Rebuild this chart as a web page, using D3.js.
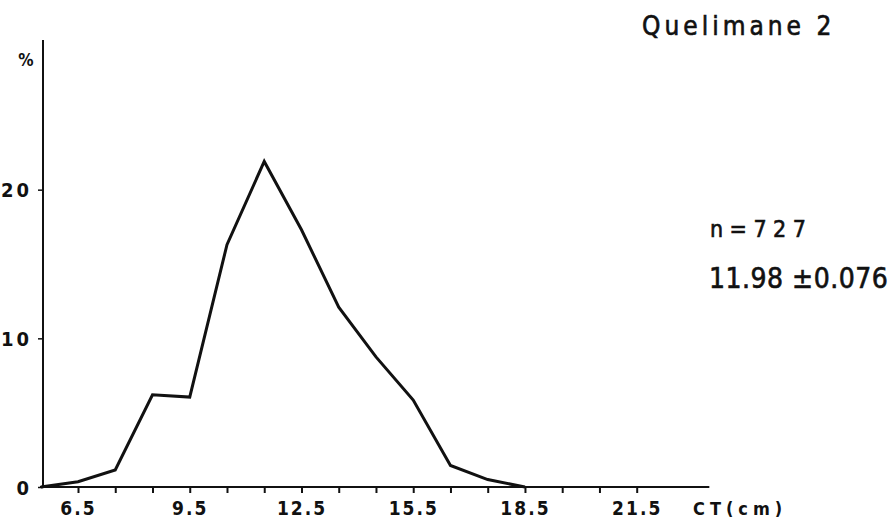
<!DOCTYPE html>
<html><head><meta charset="utf-8">
<script src="https://cdn.jsdelivr.net/npm/d3@7"></script>
<style>
body{margin:0;background:#fff;}
svg{display:block;}
text{font-family:"DejaVu Sans Condensed","DejaVu Sans",sans-serif;fill:#111;}
</style></head>
<body>
<svg id="c" width="895" height="524"></svg>
<script>
const lengths = [5.5, 6.5, 7.5, 8.5, 9.5, 10.5, 11.5, 12.5, 13.5, 14.5, 15.5, 16.5, 17.5, 18.5];
const percents = [0, 0.35, 1.15, 6.2, 6.05, 16.3, 21.9, 17.3, 12.1, 8.75, 5.85, 1.45, 0.5, 0];
const xTicks = [6.5, 7.5, 8.5, 9.5, 10.5, 11.5, 12.5, 13.5, 14.5, 15.5, 16.5, 17.5, 18.5, 19.5, 20.5, 21.5];
const xTickLabels = [6.5, 9.5, 12.5, 15.5, 18.5, 21.5];
const yTicks = [0, 10, 20];
const title = "Quelimane 2";
const statN = "n=727";
const statMean = "11.98 ±0.076";

const svg = d3.select("#c");
const x = d3.scaleLinear().domain([6.5, 21.5]).range([78, 636.7]);
const y = d3.scaleLinear().domain([0, 30]).range([487, 41]);

// x axis
const xa = svg.append("g").attr("transform", `translate(0,${y(0)})`)
  .call(d3.axisBottom(x).tickValues(xTicks).tickSize(6).tickSizeOuter(0)
    .tickFormat(d => xTickLabels.includes(d) ? d.toFixed(1) : ""));
xa.select(".domain").remove();
xa.selectAll(".tick line").attr("stroke", "#111").attr("stroke-width", 2);
xa.selectAll(".tick text").attr("dy", "0").attr("y", 28)
  .style("font-size", "19px").style("font-weight", "bold").style("letter-spacing", "2px")
  .style("font-family", "'DejaVu Sans Condensed',sans-serif");
svg.append("line").attr("x1", 40).attr("x2", x(23.45)).attr("y1", y(0)).attr("y2", y(0))
  .attr("stroke", "#111").attr("stroke-width", 2.2);

// y axis
const ya = svg.append("g").attr("transform", `translate(43,0)`)
  .call(d3.axisLeft(y).tickValues(yTicks).tickSize(5).tickSizeOuter(0).tickFormat(d3.format("d")));
ya.select(".domain").remove();
ya.selectAll(".tick line").attr("stroke", "#111").attr("stroke-width", 1.5);
ya.selectAll(".tick text").attr("x", -11).attr("dy", "0.35em")
  .style("font-size", "20px").style("font-weight", "bold").style("letter-spacing", "3px")
  .style("font-family", "'DejaVu Sans Condensed',sans-serif");
svg.append("line").attr("x1", 43).attr("x2", 43).attr("y1", 40).attr("y2", y(0))
  .attr("stroke", "#111").attr("stroke-width", 2);

svg.append("text").attr("x", 26).attr("y", 66).attr("text-anchor", "middle")
  .style("font-size", "17px").style("font-weight", "bold").text("%");

// data line
svg.append("path").datum(lengths.map((l, i) => [l, percents[i]]))
  .attr("fill", "none").attr("stroke", "#111").attr("stroke-width", 3)
  .attr("stroke-linejoin", "miter")
  .attr("d", d3.line().x(d => x(d[0])).y(d => y(d[1])));

// texts
svg.append("text").attr("x", 642).attr("y", 35)
  .style("font-size", "26px").style("letter-spacing", "4px")
  .attr("stroke", "#111").attr("stroke-width", 0.6).text(title);
svg.append("text").attr("x", 710).attr("y", 237)
  .style("font-size", "23px").style("letter-spacing", "6.5px")
  .attr("stroke", "#111").attr("stroke-width", 0.6).text(statN);
svg.append("text").attr("x", 709).attr("y", 288)
  .style("font-size", "28px").style("letter-spacing", "0.5px")
  .attr("stroke", "#111").attr("stroke-width", 0.6).text(statMean);
svg.append("text").attr("x", 693).attr("y", 515)
  .style("font-size", "18px").style("font-weight", "bold").style("letter-spacing", "5px").text("CT(cm)");
</script>
</body></html>
